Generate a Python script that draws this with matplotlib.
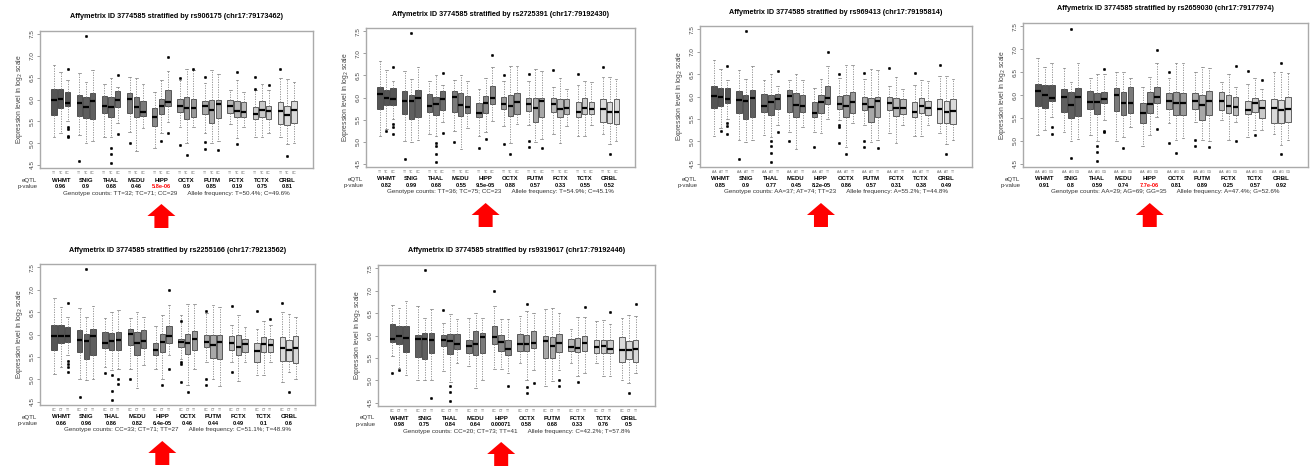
import numpy as np
import matplotlib
matplotlib.use('Agg')
import matplotlib.pyplot as plt
from matplotlib import transforms
from matplotlib.patches import Polygon

plt.rcParams['font.family'] = ['Liberation Sans', 'DejaVu Sans']

regions = ['WHMT', 'SNIG', 'THAL', 'MEDU', 'HIPP', 'OCTX', 'PUTM', 'FCTX', 'TCTX', 'CRBL']
greys = ['#555555', '#5f5f5f', '#6c6c6c', '#7a7a7a', '#888888',
         '#989898', '#a8a8a8', '#b8b8b8', '#c9c9c9', '#dadada']

snps = ['rs906175 (chr17:79173462)', 'rs2725391 (chr17:79192430)', 'rs969413 (chr17:79195814)',
        'rs2659030 (chr17:79177974)', 'rs2255166 (chr17:79213562)', 'rs9319617 (chr17:79192446)']
genotypes = [['TT', 'TC', 'CC'], ['TT', 'TC', 'CC'], ['AA', 'AT', 'TT'],
             ['AA', 'AG', 'GG'], ['CC', 'CT', 'TT'], ['CC', 'CT', 'TT']]
pvals = [['0.96', '0.9', '0.68', '0.46', '5.8e-06', '0.9', '0.85', '0.19', '0.75', '0.81'],
         ['0.82', '0.99', '0.68', '0.55', '9.5e-05', '0.88', '0.57', '0.33', '0.55', '0.52'],
         ['0.85', '0.9', '0.77', '0.45', '8.2e-05', '0.86', '0.57', '0.31', '0.38', '0.49'],
         ['0.91', '0.8', '0.59', '0.74', '7.7e-06', '0.81', '0.89', '0.25', '0.57', '0.92'],
         ['0.66', '0.96', '0.86', '0.82', '6.4e-05', '0.46', '0.44', '0.49', '0.1', '0.6'],
         ['0.98', '0.75', '0.84', '0.64', '0.00071', '0.58', '0.68', '0.33', '0.76', '0.5']]
red_hipp = [True, False, False, True, False, False]
counts = ['Genotype counts: TT=32; TC=71; CC=29', 'Genotype counts: TT=36; TC=75; CC=23',
          'Genotype counts: AA=37; AT=74; TT=23', 'Genotype counts: AA=29; AG=69; GG=35',
          'Genotype counts: CC=33; CT=71; TT=27', 'Genotype counts: CC=20; CT=73; TT=41']
allele = ['Allele frequency: T=50.4%; C=49.6%', 'Allele frequency: T=54.9%; C=45.1%',
          'Allele frequency: A=55.2%; T=44.8%', 'Allele frequency: A=47.4%; G=52.6%',
          'Allele frequency: C=51.1%; T=48.9%', 'Allele frequency: C=42.2%; T=57.8%']

# box statistics, 30 boxes per panel (10 regions x 3 genotypes)
lo1 = [5.14,5.23,5.50, 5.19,5.00,5.04, 5.15,5.15,5.45, 5.26,4.83,5.34, 4.88,5.23,5.49, 5.38,5.00,5.38, 5.23,5.00,5.04, 5.44,5.11,5.38, 5.14,5.14,5.23, 5.15,4.98,5.00]
q1_1 = [5.64,5.80,5.86, 5.62,5.57,5.55, 5.70,5.59,5.82, 5.70,5.59,5.62, 5.40,5.67,5.85, 5.72,5.55,5.61, 5.67,5.45,5.57, 5.70,5.61,5.61, 5.55,5.61,5.55, 5.44,5.42,5.45]
med1 = [5.98,6.01,5.93, 5.93,5.83,5.96, 5.86,5.82,5.98, 6.02,5.82,5.72, 5.61,5.84,5.95, 5.84,5.81,5.81, 5.85,5.76,5.89, 5.85,5.74,5.72, 5.67,5.77,5.73, 5.73,5.64,5.76]
q3_1 = [6.23,6.23,6.17, 6.11,6.06,6.14, 6.08,6.06,6.20, 6.15,6.06,5.96, 5.80,6.02,6.21, 6.01,6.06,6.02, 5.97,6.00,6.00, 6.00,5.97,5.95, 5.82,5.97,5.85, 5.95,5.85,5.97]
hi1 = [6.80,6.62,6.45, 6.61,6.40,6.67, 6.36,6.50,6.29, 6.52,6.50,6.35, 6.17,6.44,6.65, 6.44,6.70,6.67, 6.38,6.67,6.59, 6.21,6.44,6.17, 6.21,6.35,6.21, 6.50,6.48,6.40]
fl1 = [[],[],[6.69,5.37,5.32,5.17,5.15], [4.60],[7.45],[], [],[4.88,4.76,4.55],[6.56,5.20], [5.00],[],[],
       [],[5.06],[6.97,5.24], [6.50,4.95],[4.72],[6.69], [6.52,5.02,4.87],[],[4.85], [],[6.63,4.98],[],
       [6.52,6.25],[],[6.33], [6.69],[4.70],[]]

lo2 = [5.14,5.29,5.51, 5.02,5.00,5.04, 5.17,5.14,5.44, 5.25,4.83,5.32, 5.14,5.21,5.47, 5.36,4.98,5.40, 5.38,5.00,5.06, 5.17,4.98,5.36, 5.14,5.14,5.38, 5.17,4.95,5.02]
q1_2 = [5.75,5.83,5.83, 5.62,5.51,5.55, 5.68,5.60,5.72, 5.68,5.59,5.65, 5.55,5.66,5.85, 5.74,5.59,5.62, 5.70,5.45,5.55, 5.68,5.57,5.62, 5.55,5.62,5.62, 5.44,5.42,5.40]
med2 = [6.07,5.98,5.96, 5.92,5.92,5.98, 5.81,5.86,5.96, 6.02,5.83,5.79, 5.64,5.87,5.98, 5.86,5.80,5.89, 5.86,5.77,5.92, 5.86,5.75,5.77, 5.68,5.77,5.75, 5.74,5.68,5.68]
q3_2 = [6.24,6.17,6.21, 6.15,6.06,6.17, 6.08,6.02,6.15, 6.15,6.11,6.04, 5.87,6.04,6.25, 6.02,6.05,6.11, 6.00,5.98,6.00, 6.00,5.96,5.96, 5.90,5.98,5.90, 5.96,5.89,5.96]
hi2 = [6.83,6.62,6.38, 6.60,6.41,6.68, 6.38,6.50,6.28, 6.40,6.50,6.38, 6.19,6.43,6.68, 6.38,6.71,6.71, 6.38,6.64,6.60, 6.23,6.45,6.19, 6.28,6.38,6.34, 6.47,6.47,6.41]
fl2 = [[],[5.24],[6.69,5.40,5.34,5.17], [4.60],[7.45],[], [],[4.98,4.90,4.73,4.54],[6.56,5.20], [5.00],[],[],
       [4.87],[5.07],[6.97], [6.50,4.95],[4.72],[], [6.52,5.02,4.88],[],[4.86], [6.63],[],[],
       [6.52],[],[], [6.69],[4.72],[]]

lo3 = [5.12,5.29,5.51, 5.03,4.99,5.03, 5.14,5.10,5.36, 5.21,4.82,5.33, 5.21,5.18,5.49, 5.48,4.88,5.40, 5.36,4.99,5.03, 5.18,4.97,5.36, 5.12,5.12,5.36, 5.18,4.95,5.03]
q1_3 = [5.74,5.79,5.85, 5.63,5.50,5.54, 5.66,5.59,5.72, 5.66,5.55,5.66, 5.54,5.63,5.84, 5.72,5.55,5.63, 5.70,5.44,5.55, 5.69,5.57,5.61, 5.54,5.63,5.59, 5.42,5.42,5.39]
med3 = [6.02,5.98,5.95, 5.93,5.89,5.96, 5.79,5.87,5.95, 6.01,5.81,5.78, 5.63,5.87,5.96, 5.84,5.79,5.87, 5.84,5.76,5.91, 5.85,5.74,5.75, 5.66,5.78,5.74, 5.72,5.66,5.68]
q3_3 = [6.24,6.18,6.20, 6.13,6.04,6.15, 6.06,6.04,6.05, 6.15,6.07,6.04, 5.87,6.04,6.24, 6.01,6.04,6.09, 5.99,5.96,6.00, 6.00,5.96,5.94, 5.87,5.96,5.89, 5.94,5.89,5.94]
hi3 = [6.81,6.62,6.37, 6.60,6.39,6.67, 6.36,6.49,6.24, 6.37,6.51,6.36, 6.19,6.39,6.67, 6.41,6.70,6.70, 6.40,6.61,6.58, 6.24,6.43,6.16, 6.26,6.37,6.34, 6.46,6.46,6.39]
fl3 = [[],[5.24],[6.69,5.40,5.34,5.17], [4.61],[7.45],[], [],[5.00,4.90,4.75,4.55],[6.56,5.20], [5.00],[],[],
       [4.88],[],[6.98], [6.50,5.37,5.33,4.96],[4.73],[], [6.52,5.02,4.87],[],[4.86], [6.64],[],[],
       [6.52],[],[], [6.70],[4.72],[]]

lo4 = [5.13,5.24,5.53, 5.20,4.99,5.04, 5.13,4.99,5.46, 4.99,5.09,5.31, 4.88,5.13,5.53, 5.38,5.02,5.06, 5.42,5.02,4.99, 5.46,5.02,5.42, 5.09,5.24,5.24, 5.14,4.91,5.02]
q1_4 = [5.75,5.72,5.86, 5.64,5.49,5.55, 5.70,5.59,5.82, 5.66,5.57,5.60, 5.38,5.60,5.82, 5.70,5.57,5.57, 5.70,5.46,5.57, 5.67,5.60,5.57, 5.58,5.64,5.49, 5.38,5.38,5.41]
med4 = [6.09,6.00,5.94, 5.96,5.78,5.96, 5.84,5.84,5.91, 6.00,5.82,5.82, 5.60,5.80,5.95, 5.86,5.83,5.82, 5.86,5.78,5.86, 5.86,5.75,5.74, 5.67,5.82,5.71, 5.71,5.67,5.69]
q3_4 = [6.25,6.22,6.22, 6.13,6.07,6.16, 6.09,6.04,6.07, 6.16,6.07,6.18, 5.82,6.06,6.18, 6.04,6.07,6.04, 6.04,6.01,6.09, 6.06,6.00,5.96, 5.86,5.93,5.89, 5.91,5.89,5.96]
hi4 = [6.81,6.62,6.70, 6.59,6.29,6.69, 6.36,6.45,6.45, 6.51,6.51,6.36, 6.18,6.40,6.69, 6.38,6.69,6.69, 6.51,6.62,6.58, 6.29,6.45,6.18, 6.25,6.36,6.13, 6.51,6.51,6.49]
fl4 = [[],[],[5.30,5.16], [],[7.45,4.62],[], [],[4.88,4.75,4.55],[6.57,5.22,5.20], [],[4.84],[],
       [],[],[6.98,5.25], [6.50,4.96],[4.73],[], [5.02,4.88],[],[4.86], [],[],[6.64,4.99],
       [6.52],[5.12],[6.33], [],[6.70,4.71],[]]

lo5 = [5.13,5.28,5.54, 5.01,4.98,5.01, 5.28,5.20,5.24, 5.24,4.81,5.31, 5.24,5.01,5.54, 5.46,4.87,5.24, 5.39,5.01,4.85, 5.39,4.96,5.39, 5.09,5.09,5.39, 4.94,5.16,5.01]
q1_5 = [5.65,5.80,5.84, 5.60,5.45,5.54, 5.69,5.65,5.65, 5.76,5.55,5.69, 5.55,5.60,5.80, 5.72,5.57,5.65, 5.72,5.48,5.46, 5.65,5.55,5.61, 5.39,5.61,5.61, 5.40,5.40,5.37]
med5 = [5.97,5.96,5.96, 5.87,5.85,5.96, 5.80,5.85,5.87, 6.01,5.80,5.85, 5.65,5.84,5.97, 5.84,5.80,5.90, 5.84,5.76,5.84, 5.82,5.72,5.78, 5.63,5.78,5.76, 5.71,5.66,5.69]
q3_5 = [6.22,6.21,6.17, 6.11,6.01,6.13, 6.06,6.04,6.06, 6.12,6.06,6.11, 5.80,6.01,6.19, 5.91,6.02,6.07, 6.00,5.99,6.00, 5.97,5.99,5.91, 5.80,5.95,5.91, 5.95,5.87,5.97]
hi5 = [6.82,6.62,6.40, 6.58,6.40,6.64, 6.36,6.49,6.54, 6.36,6.49,6.40, 6.20,6.43,6.66, 6.43,6.69,6.69, 6.47,6.66,6.62, 6.22,6.43,6.17, 6.13,6.30,6.21, 6.51,6.45,6.40]
fl5 = [[],[],[6.70,5.40,5.34,5.27,5.17], [4.60],[7.45],[], [5.15],[5.10,4.75,4.55],[5.00,4.90], [5.00],[],[],
       [],[4.88],[6.98,5.24], [6.31,5.39,5.35,4.95],[4.72],[], [6.52,5.02,4.87],[],[], [6.64,5.16],[],[],
       [6.53],[],[6.34], [6.70],[4.71],[]]

lo6 = [5.54,5.28,5.13, 5.01,5.01,5.00, 5.20,4.96,5.39, 5.31,4.83,5.00, 5.25,5.25,5.16, 5.39,5.01,5.24, 4.87,4.98,5.24, 5.39,5.09,5.16, 5.39,5.09,5.09, 5.01,4.94,5.16]
q1_6 = [5.85,5.82,5.63, 5.52,5.48,5.61, 5.76,5.59,5.69, 5.61,5.57,5.61, 5.80,5.65,5.57, 5.65,5.65,5.72, 5.50,5.50,5.63, 5.65,5.63,5.65, 5.61,5.60,5.60, 5.40,5.48,5.40]
med6 = [5.93,5.99,5.95, 5.93,5.93,5.91, 5.90,5.87,5.80, 5.76,5.82,5.97, 5.97,5.86,5.69, 5.81,5.80,5.84, 5.87,5.76,5.84, 5.74,5.72,5.84, 5.74,5.76,5.69, 5.67,5.67,5.71]
q3_6 = [6.25,6.21,6.21, 6.02,6.06,6.06, 6.02,6.04,6.04, 5.91,6.10,6.06, 6.21,6.02,5.90, 6.04,6.01,6.10, 5.99,5.97,6.04, 5.93,5.95,6.00, 5.91,5.91,5.91, 5.97,5.87,5.91]
hi6 = [6.67,6.62,6.77, 6.66,6.40,6.60, 6.28,6.47,6.36, 6.40,6.49,6.40, 6.66,6.36,6.37, 6.43,6.55,6.49, 6.58,6.62,6.49, 6.15,6.42,6.42, 6.32,6.34,6.25, 6.40,6.45,6.43]
fl6 = [[5.16],[5.24],[], [],[7.45],[4.60], [6.57],[4.88,4.75,4.55],[], [],[],[],
       [6.98],[],[4.87], [],[6.70,4.85,4.73],[4.95], [],[],[5.01,4.87], [],[4.97],[6.64],
       [],[],[6.53], [],[4.71],[6.70]]

panels = [(lo1, q1_1, med1, q3_1, hi1, fl1), (lo2, q1_2, med2, q3_2, hi2, fl2),
          (lo3, q1_3, med3, q3_3, hi3, fl3), (lo4, q1_4, med4, q3_4, hi4, fl4),
          (lo5, q1_5, med5, q3_5, hi5, fl5), (lo6, q1_6, med6, q3_6, hi6, fl6)]

# axes rectangles in pixels: left, top, right, bottom
rects = [(40, 31, 313, 168), (366, 28, 635, 167), (700, 26, 972, 167),
         (1023, 23, 1308, 167), (40, 264, 315, 405), (378, 265, 655, 406)]

W, H = 1316, 470
fig = plt.figure(figsize=(W / 100, H / 100), dpi=100)

step = 3.75
pos = [g * step + j for g in range(10) for j in range(3)]

for k in range(6):
    l, t, r, b = rects[k]
    ax = fig.add_axes([l / W, 1 - b / H, (r - l) / W, (b - t) / H])
    lo, q1, med, q3, hi, fl = panels[k]
    stats = [dict(whislo=lo[i], q1=q1[i], med=med[i], q3=q3[i], whishi=hi[i], fliers=fl[i])
             for i in range(30)]
    bp = ax.bxp(stats, positions=pos, widths=0.8, patch_artist=True, showfliers=True,
                boxprops=dict(edgecolor='#2a2a2a', linewidth=0.5),
                whiskerprops=dict(color='#888888', linewidth=0.6, linestyle=(0, (1.5, 1.5))),
                capprops=dict(color='#777777', linewidth=0.5),
                medianprops=dict(color='black', linewidth=1.6, solid_capstyle='butt'),
                flierprops=dict(marker='o', markerfacecolor='black', markeredgecolor='black',
                                markeredgewidth=0.3, markersize=1.8, linestyle='none'))
    for i, patch in enumerate(bp['boxes']):
        patch.set_facecolor(greys[i // 3])
    for c in bp['caps']:
        xd = c.get_xdata()
        m = (xd[0] + xd[1]) / 2
        c.set_xdata([m - 0.2, m + 0.2])

    ax.set_xlim(-2.1, 38.6)
    ax.set_ylim(4.43, 7.57)
    ax.set_xticks([])
    ax.set_yticks([4.5, 5.0, 5.5, 6.0, 6.5, 7.0, 7.5])
    ax.set_yticklabels(['4.5', '5.0', '5.5', '6.0', '6.5', '7.0', '7.5'], rotation=90,
                       va='center', fontsize=4.6, color='#444444')
    ax.tick_params(axis='y', length=2.5, width=0.5, color='#777777', pad=1.5)
    for s in ax.spines.values():
        s.set_color('#aaaaaa')
        s.set_linewidth(1.0)
    ax.set_ylabel('Expression level in log$_2$ scale', fontsize=4.9, color='#444444', labelpad=3)
    ax.set_title('Affymetrix ID 3774585 stratified by ' + snps[k], fontsize=5.2,
                 fontweight='bold', pad=9)

    blend = transforms.blended_transform_factory(ax.transData, ax.transAxes)
    for g in range(10):
        cx = g * step + 1
        for j in range(3):
            ax.text(g * step + j, 0, genotypes[k][j],
                    transform=transforms.offset_copy(blend, fig=fig, y=-5, units='dots'),
                    fontsize=2.4, ha='center', va='center', color='#666666')
        ax.text(cx, 0, regions[g],
                transform=transforms.offset_copy(blend, fig=fig, y=-12, units='dots'),
                fontsize=4.3, fontweight='bold', ha='center', va='center')
        pc = 'red' if (g == 4 and red_hipp[k]) else 'black'
        ax.text(cx, 0, pvals[k][g],
                transform=transforms.offset_copy(blend, fig=fig, y=-18.5, units='dots'),
                fontsize=4.1, fontweight='bold', ha='center', va='center', color=pc)
    ax.text(-0.01, 0, 'eQTL',
            transform=transforms.offset_copy(ax.transAxes, fig=fig, y=-12, units='dots'),
            fontsize=4.4, ha='right', va='center', color='#333333')
    ax.text(-0.01, 0, 'p-value',
            transform=transforms.offset_copy(ax.transAxes, fig=fig, y=-18.5, units='dots'),
            fontsize=4.4, ha='right', va='center', color='#333333')
    ax.text(0.5, 0, counts[k] + '      ' + allele[k],
            transform=transforms.offset_copy(ax.transAxes, fig=fig, y=-25, units='dots'),
            fontsize=4.5, ha='center', va='center', color='#333333')

    # red arrow under HIPP
    fig.canvas.draw()
    hx = ax.transData.transform((4 * step + 1, 0))[0]
    yb = H - b
    y_top, y_head, y_bot = yb - 36, yb - 48, yb - 60
    verts = [(hx, y_top), (hx + 14, y_head), (hx + 7, y_head), (hx + 7, y_bot),
             (hx - 7, y_bot), (hx - 7, y_head), (hx - 14, y_head)]
    fig.add_artist(Polygon(verts, closed=True, facecolor='#ff0000', edgecolor='none',
                           transform=None))

fig.savefig('out.png', dpi=100)
